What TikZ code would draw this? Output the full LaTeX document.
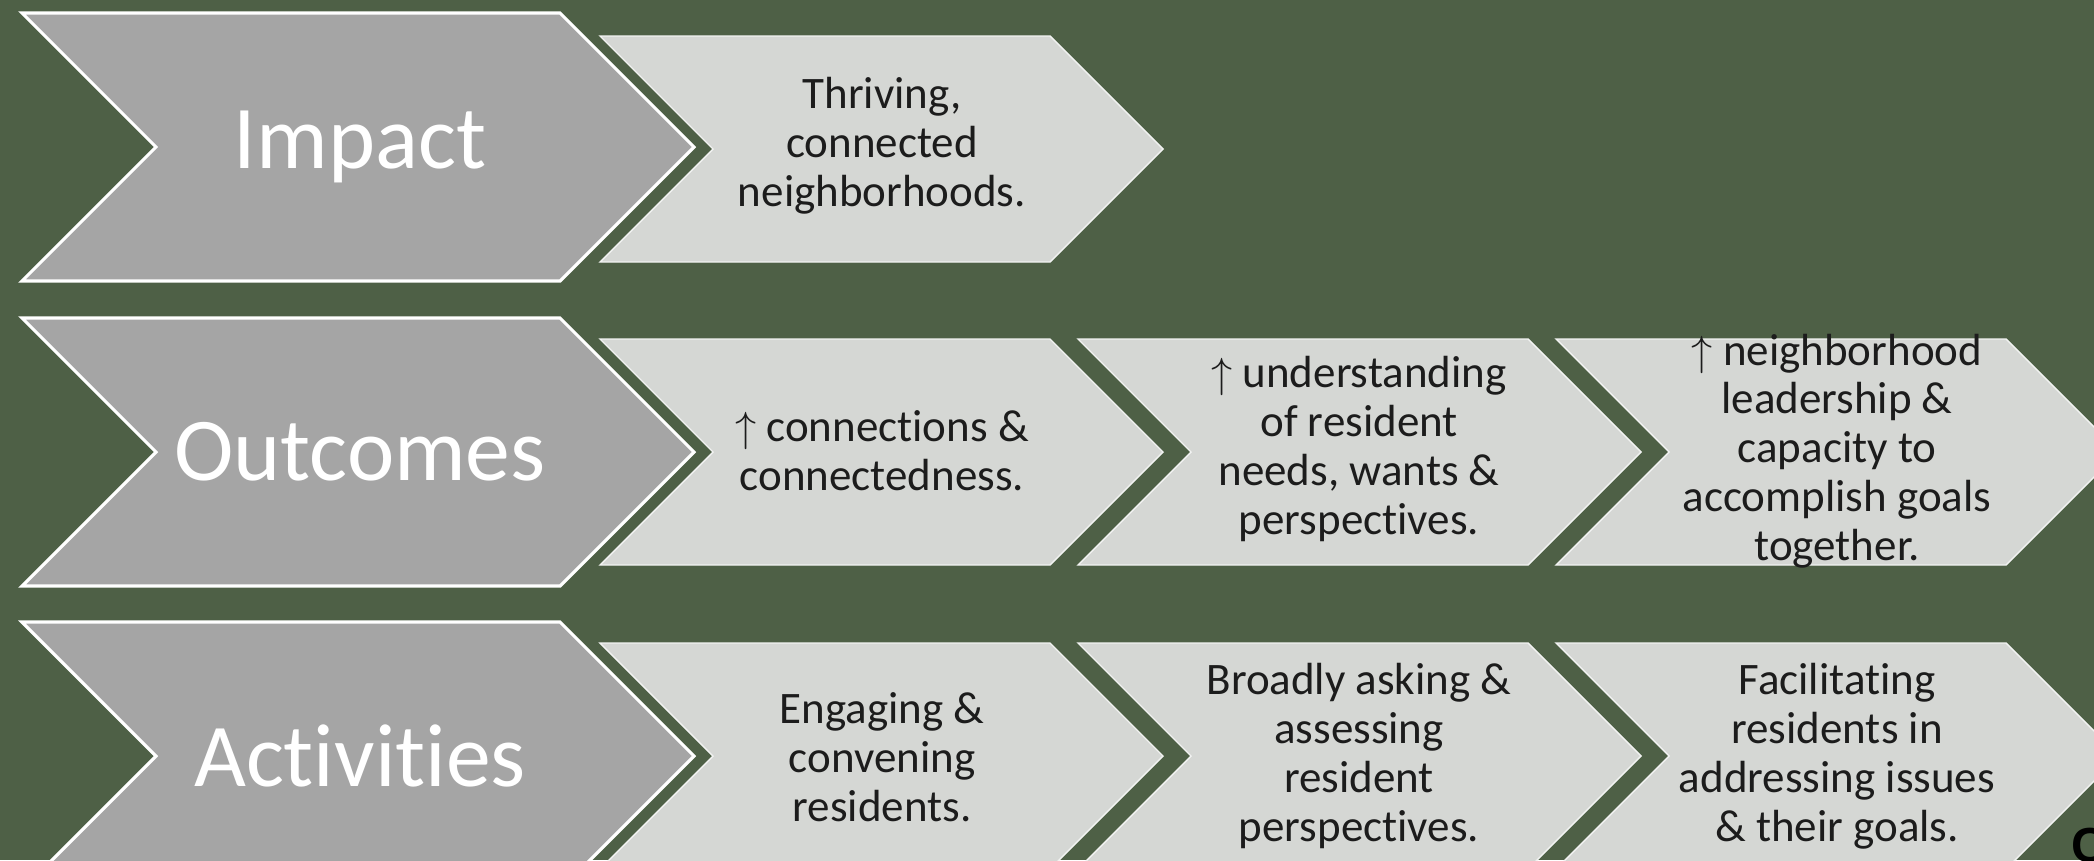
\documentclass[tikz,border=0pt]{standalone}
\usepackage{fontspec}
\setmainfont{Carlito}[Ligatures=NoCommon, RawFeature=-calt]
\newfontfamily\markfont{Liberation Sans}
\definecolor{bggreen}{RGB}{78,96,70}
\definecolor{biggray}{RGB}{165,165,165}
\definecolor{smallgray}{RGB}{213,215,212}
\definecolor{txtdark}{RGB}{28,28,28}

\begin{document}
\begin{tikzpicture}[x=0.01cm, y=-0.01cm,
  bigchev/.style={fill=biggray, draw=white, line width=0.9pt},
  smallchev/.style={fill=smallgray, draw=white!70!smallgray, line width=0.4pt},
  bigtext/.style={text=white, font=\fontsize{25.5}{30}\selectfont},
  smalltext/.style={text=txtdark, align=center, font=\fontsize{12.8}{13.9}\selectfont}]
\useasboundingbox (0,0) rectangle (2094,860);
\fill[bggreen] (0,0) rectangle (2094,860);
% row headers
\foreach \c/\n/\t in {147/impact/Impact, 452/outcomes/Outcomes, 756/activities/Activities} {
 \draw[bigchev] (22,\c-134) -- (560,\c-134) -- (694,\c) -- (560,\c+134) -- (22,\c+134) -- (156,\c) -- cycle;
 \node[bigtext] (\n) at (360,\c) {\t};
}
% small chevrons
\foreach \l/\c in {600/149, 600/452, 1078/452, 1556/452, 600/756, 1078/756, 1556/756} {
 \draw[smallchev] (\l,\c-113) -- (\l+450,\c-113) -- (\l+563,\c) -- (\l+450,\c+113) -- (\l,\c+113) -- (\l+113,\c) -- cycle;
}
% impact
\node[smalltext] (thriving) at (882,146) {Thriving,\\connected\\neighborhoods.};
% outcomes
\node[smalltext] (connections) at (882,451) {$\uparrow$ connections \&\\connectedness.};
\node[smalltext] (understanding) at (1359,449) {$\uparrow$ understanding\\of resident\\needs, wants \&\\perspectives.};
\node[smalltext] (leadership) at (1837,451) {$\uparrow$ neighborhood\\leadership \&\\capacity to\\accomplish goals\\together.};
% activities
\node[smalltext] (engaging) at (882,757) {Engaging \&\\convening\\residents.};
\node[smalltext] (asking) at (1359,756) {Broadly asking \&\\assessing\\resident\\perspectives.};
\node[smalltext] (facilitating) at (1837,756) {Facilitating\\residents in\\addressing issues\\\& their goals.};
\node[anchor=base west, inner sep=0, text=black, font=\markfont\bfseries\fontsize{14}{16}\selectfont] (cut) at (2071,862) {C};
\end{tikzpicture}
\end{document}
